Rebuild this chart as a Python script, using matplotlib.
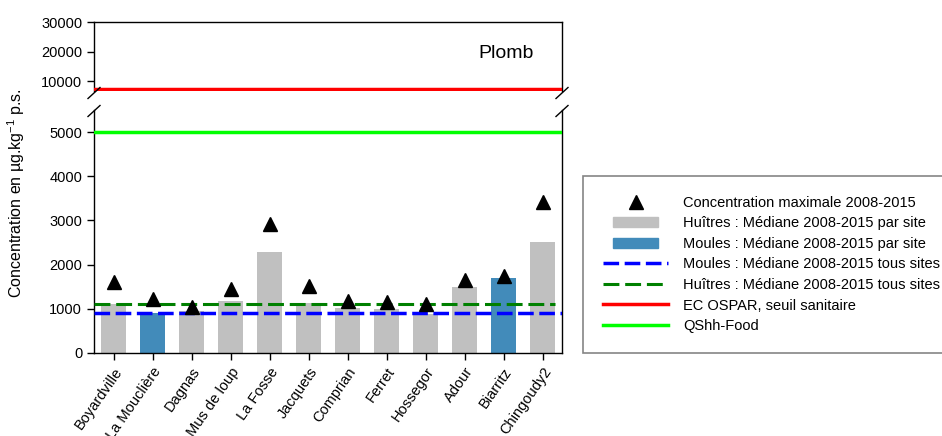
import matplotlib
matplotlib.use("Agg")
import matplotlib.pyplot as plt
from matplotlib.lines import Line2D
from matplotlib.patches import Rectangle
from matplotlib.legend_handler import HandlerPatch

plt.rcParams['font.family'] = ['Liberation Sans', 'DejaVu Sans']
plt.rcParams['mathtext.fontset'] = 'custom'
plt.rcParams['mathtext.rm'] = 'Liberation Sans'
plt.rcParams['mathtext.it'] = 'Liberation Sans:italic'

sites = ['Boyardville', 'La Mouclière', 'Dagnas', 'Mus de loup', 'La Fosse',
         'Jacquets', 'Comprian', 'Ferret', 'Hossegor', 'Adour', 'Biarritz',
         'Chingoudy2']
species = ['H', 'M', 'H', 'H', 'H', 'H', 'H', 'H', 'H', 'H', 'M', 'H']
median_site = [1100, 900, 950, 1170, 2290, 1130, 1020, 1000, 890, 1500, 1700, 2510]
max_site = [1610, 1220, 1050, 1450, 2920, 1515, 1170, 1150, 1110, 1650, 1740, 3410]

median_mussels_all = 900
median_oysters_all = 1100
ospar_threshold = 7500
qshh_food = 5000

top_ticks = [10000, 20000, 30000]
bottom_ticks = [0, 1000, 2000, 3000, 4000, 5000]

col_oyster = '#c0c0c0'
col_mussel = '#428bba'
blue_dash = dict(color='#0000ff', lw=2.5, dashes=(4.5, 1.6))
green_dash = dict(color='#008000', lw=2.2, dashes=(5.2, 1.9))

W, H = 942, 436
fig = plt.figure(figsize=(W / 100, H / 100), dpi=100)

left, right = 94 / W, 562 / W
ax_top = fig.add_axes([left, 1 - 91 / H, right - left, (91 - 22) / H])
ax_bot = fig.add_axes([left, 1 - 353 / H, right - left, (353 - 110) / H])

x = list(range(len(sites)))
colors = [col_mussel if s == 'M' else col_oyster for s in species]

for ax in (ax_top, ax_bot):
    ax.bar(x, median_site, width=0.64, color=colors, zorder=1)
    ax.plot(x, max_site, linestyle='none', marker='^', color='black',
            markersize=10, zorder=4)
    ax.axhline(median_mussels_all, zorder=3, **blue_dash)
    ax.axhline(median_oysters_all, xmax=0.985, zorder=3, **green_dash)
    ax.axhline(ospar_threshold, color='#ff0000', lw=2.5, zorder=3)
    ax.axhline(qshh_food, color='#00ff00', lw=2.5, zorder=3)
    ax.set_xlim(-0.5, len(sites) - 0.5)
    ax.tick_params(direction='out', length=5, width=1, labelsize=10.5)
    for s in ax.spines.values():
        s.set_linewidth(1)

ax_top.set_ylim(6700, 30000)
ax_top.set_yticks(top_ticks)
ax_top.spines['bottom'].set_visible(False)
ax_top.tick_params(axis='x', bottom=False, labelbottom=False)
ax_top.text(0.88, 0.54, 'Plomb', transform=ax_top.transAxes, fontsize=14,
            ha='center', va='center')

ax_bot.set_ylim(0, 5500)
ax_bot.set_yticks(bottom_ticks)
ax_bot.spines['top'].set_visible(False)
ax_bot.set_xticks(x)
ax_bot.set_xticklabels(sites, rotation=55, ha='right', rotation_mode='anchor',
                       fontsize=10.5)

# axis break marks on both vertical spines
for xp in (94, 562):
    for yc in (93, 111):
        fig.add_artist(Line2D([(xp - 6) / W, (xp + 6) / W],
                              [1 - (yc + 5.5) / H, 1 - (yc - 5.5) / H],
                              transform=fig.transFigure, color='black', lw=1))

fig.text(16 / W, 1 - 193 / H, r'Concentration en µg.kg$^{\mathrm{-1}}$ p.s.',
         rotation=90, ha='center', va='center', fontsize=11.5)


def narrow_box(legend, orig_handle, xdescent, ydescent, width, height, fontsize):
    inset = 0.15 * width
    return Rectangle((-xdescent + inset, -ydescent), width - 2 * inset, height)


oyster_patch = Rectangle((0, 0), 1, 1, color=col_oyster)
mussel_patch = Rectangle((0, 0), 1, 1, color=col_mussel)

handles = [
    Line2D([], [], linestyle='none', marker='^', color='black', markersize=10),
    oyster_patch,
    mussel_patch,
    Line2D([], [], **blue_dash),
    Line2D([], [], **green_dash),
    Line2D([], [], color='#ff0000', lw=2.5),
    Line2D([], [], color='#00ff00', lw=2.5),
]
labels = [
    'Concentration maximale 2008-2015',
    'Huîtres : Médiane 2008-2015 par site',
    'Moules : Médiane 2008-2015 par site',
    'Moules : Médiane 2008-2015 tous sites',
    'Huîtres : Médiane 2008-2015 tous sites',
    'EC OSPAR, seuil sanitaire',
    'QShh-Food',
]
leg = fig.legend(handles, labels, loc='upper left',
                 bbox_to_anchor=(583 / W, 1 - 176 / H), fontsize=10.5,
                 frameon=True, fancybox=False, edgecolor='#666666',
                 handlelength=4.5, handletextpad=1.0, labelspacing=0.45,
                 borderpad=1.35, borderaxespad=0,
                 handler_map={Rectangle: HandlerPatch(patch_func=narrow_box)})
leg.get_frame().set_linewidth(1.2)

fig.savefig('out.png', dpi=100)
